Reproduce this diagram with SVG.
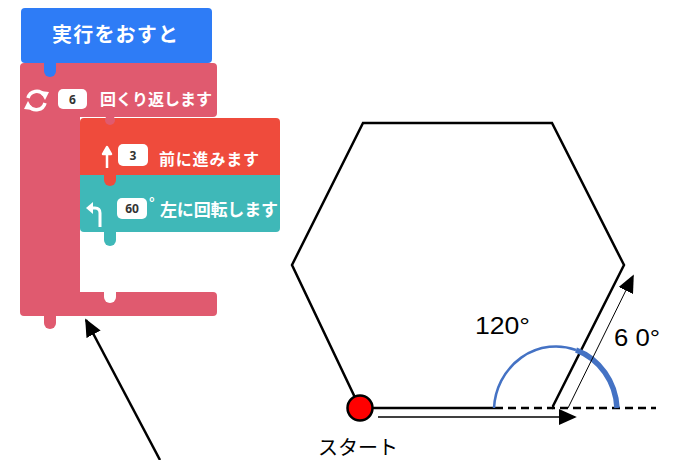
<svg xmlns="http://www.w3.org/2000/svg" width="673" height="460" viewBox="0 0 673 460">
<defs>
<style>
.jp{font-family:"Noto Sans CJK JP","Noto Sans",sans-serif;font-weight:bold;fill:#fff}
.num{font-family:"Noto Sans","Liberation Sans",sans-serif;font-weight:bold;fill:#333;font-size:12px;text-anchor:middle}
.lbl{font-family:"Liberation Sans",sans-serif;fill:#000}
.box{fill:#fff}
.ln{stroke:#000;fill:none}
</style>
<marker id="ahL" viewBox="0 0 10 10" refX="9" refY="5" markerWidth="18" markerHeight="16" markerUnits="userSpaceOnUse" orient="auto" preserveAspectRatio="none">
<path d="M0,0 L10,5 L0,10 Z" fill="#000"/>
</marker>
</defs>

<g id="loop-block">
<path d="M24,63 H213 Q217,63 217,67 V113 Q217,117 213,117 H80 V292 H213 Q217,292 217,296 V312 Q217,316 213,316 H24 Q20,316 20,312 V67 Q20,63 24,63 Z" fill="#e05a6f"/>
<circle cx="110" cy="297" r="6" fill="#fff"/>
<rect x="104" y="290" width="12" height="7" fill="#fff"/>
<circle cx="50" cy="323" r="6" fill="#e05a6f"/>
<rect x="44" y="314" width="12" height="9" fill="#e05a6f"/>
<circle cx="110" cy="121" r="5" fill="#e05a6f"/>
<g fill="none" stroke="#fff" stroke-width="3.500">
<path d="M28,98 A9,9 0 0 1 44,95"/>
<path d="M45,103 A9,9 0 0 1 29,106"/>
</g>
<path d="M40,91 L49,92 L45,100 Z" fill="#fff"/>
<path d="M33,110 L24,109 L28,101 Z" fill="#fff"/>
<rect class="box" x="58" y="89" width="29" height="20" rx="5"/>
<text class="num" x="72.500" y="104">6</text>
<text class="jp" x="100" y="105" font-size="16" textLength="112">回くり返します</text>
</g>

<g id="start-block">
<rect x="21" y="8" width="191" height="55" rx="4" fill="#2e7cf6"/>
<circle cx="50" cy="71" r="6" fill="#2e7cf6"/>
<rect x="44" y="62" width="12" height="9" fill="#2e7cf6"/>
<text class="jp" x="115" y="42" font-size="20" text-anchor="middle" textLength="126">実行をおすと</text>
</g>

<g id="forward-block">
<path d="M84,118 H276 Q280,118 280,122 V175 H80 V122 Q80,118 84,118 Z" fill="#ef4b3c"/>
<circle cx="110" cy="120" r="5" fill="#e05a6f"/>
<path d="M107,168 V154 H103 L107,147 L111,154 H107" fill="#fff" stroke="#fff" stroke-width="2.500" stroke-linejoin="round"/>
<rect class="box" x="118" y="144" width="30" height="22" rx="5"/>
<text class="num" x="133" y="160">3</text>
<text class="jp" x="159" y="165" font-size="16" textLength="100">前に進みます</text>
</g>

<g id="turn-block">
<path d="M80,175 H280 V228 Q280,232 276,232 H84 Q80,232 80,228 Z" fill="#3fb8b8"/>
<circle cx="110" cy="180" r="6" fill="#ef4b3c"/>
<rect x="104" y="174" width="12" height="6" fill="#ef4b3c"/>
<circle cx="110" cy="240" r="6" fill="#3fb8b8"/>
<rect x="104" y="231" width="12" height="9" fill="#3fb8b8"/>
<path d="M100,227 V213 Q100,208 95,208 H92" fill="none" stroke="#fff" stroke-width="3"/>
<path d="M86,208 L93,202 L93,214 Z" fill="#fff"/>
<rect class="box" x="117" y="198" width="30" height="21" rx="5"/>
<text class="num" x="132" y="213">60</text>
<text class="jp" x="149" y="208" font-size="14" font-weight="normal">°</text>
<text class="jp" x="160" y="216" font-size="17" textLength="118">左に回転します</text>
</g>

<g id="hexagon">
<polygon points="363,123 552,123 624,265 552,408 360,408 292,265" fill="none" stroke="#000" stroke-width="2.500" stroke-linejoin="miter"/>
<line x1="495" y1="408" x2="552" y2="408" stroke="#fff" stroke-width="4"/>
</g>

<g id="connectors">
<line class="ln" x1="495" y1="408" x2="656" y2="408" stroke-width="2.500" stroke-dasharray="8,5"/>
<path d="M494,408 A62,65 0 0 1 576,350" fill="none" stroke="#4472c4" stroke-width="2.500"/>
<path d="M576,350 A62,65 0 0 1 617,408" fill="none" stroke="#4472c4" stroke-width="5.500"/>
<line class="ln" x1="378" y1="417" x2="575" y2="417" stroke-width="1.500" marker-end="url(#ahL)"/>
<line class="ln" x1="568" y1="408" x2="633" y2="276" stroke-width="1" marker-end="url(#ahL)"/>
<line class="ln" x1="160" y1="460" x2="86" y2="320" stroke-width="2.500" marker-end="url(#ahL)"/>
</g>

<g id="start-point">
<circle cx="360" cy="408" r="12.500" fill="#f00" stroke="#000" stroke-width="2.500"/>
</g>

<g id="labels">
<text class="lbl" x="475" y="334" font-size="23" textLength="55" lengthAdjust="spacingAndGlyphs">120°</text>
<text class="lbl" x="614" y="346" font-size="23" textLength="46" lengthAdjust="spacingAndGlyphs">6 0°</text>
<text x="318" y="455" font-size="20" font-family="Noto Sans CJK JP, sans-serif" fill="#000">スタート</text>
</g>
</svg>
